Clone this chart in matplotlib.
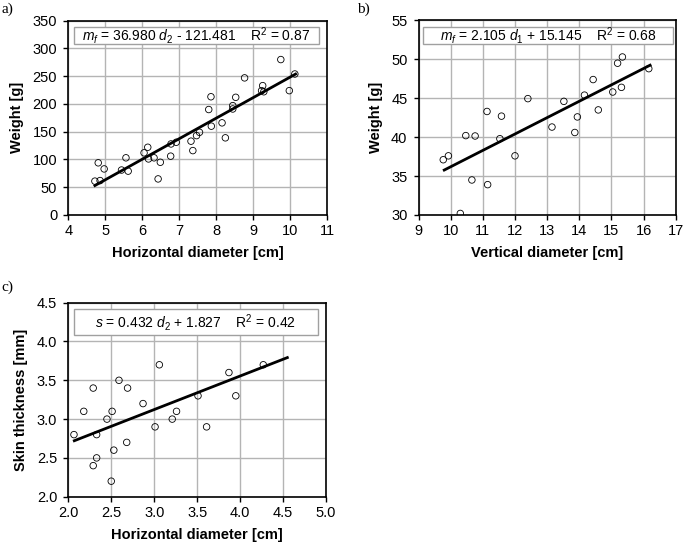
import numpy as np
import matplotlib.pyplot as plt
from matplotlib.patches import Rectangle

plt.rcParams['font.family'] = ['Liberation Sans', 'DejaVu Sans']
plt.rcParams['mathtext.fontset'] = 'custom'
plt.rcParams['mathtext.rm'] = 'Liberation Sans'
plt.rcParams['mathtext.it'] = 'Liberation Sans:italic'

# a) horizontal diameter vs weight
a_x = [4.72, 4.81, 4.86, 4.97, 5.44, 5.56, 5.62, 6.05, 6.15, 6.17, 6.32, 6.43, 6.49,
       6.77, 6.78, 6.92, 7.32, 7.37, 7.47, 7.55, 7.80, 7.86, 7.87, 8.16, 8.25, 8.45,
       8.45, 8.53, 8.77, 9.23, 9.26, 9.29, 9.75, 9.98, 10.13]
a_y = [61, 94, 62, 83, 81, 103, 79, 112, 122, 101, 103, 65, 95,
       106, 128, 131, 133, 116, 143, 149, 190, 213, 160, 166, 139, 191,
       197, 212, 247, 224, 233, 222, 280, 224, 254]

# b) vertical diameter vs weight
b_x = [9.77, 9.93, 10.30, 10.47, 10.66, 10.76, 11.13, 11.15, 11.58, 11.53, 12.00, 12.40,
       13.15, 13.52, 13.86, 13.94, 14.16, 14.43, 14.59, 15.04, 15.19, 15.31, 15.34, 16.16]
b_y = [37.1, 37.6, 30.2, 40.2, 34.5, 40.15, 43.3, 33.9, 42.7, 39.8, 37.6, 44.95,
       41.3, 44.6, 40.6, 42.6, 45.4, 47.4, 43.5, 45.8, 49.5, 46.4, 50.3, 48.8]

# c) horizontal diameter vs skin thickness
c_x = [2.066, 2.18, 2.29, 2.29, 2.33, 2.33, 2.45, 2.51, 2.50, 2.53, 2.59, 2.69,
       2.68, 2.87, 3.01, 3.06, 3.21, 3.26, 3.51, 3.61, 3.87, 3.95, 4.27]
c_y = [2.80, 3.10, 3.40, 2.40, 2.80, 2.50, 3.00, 3.10, 2.20, 2.60, 3.50, 3.40,
       2.70, 3.20, 2.90, 3.70, 3.00, 3.10, 3.30, 2.90, 3.60, 3.30, 3.70]

W, H = 685, 546
fig = plt.figure(figsize=(6.85, 5.46), dpi=100)


def make_axes(left, right, top, bottom):
    return fig.add_axes([left / W, 1 - bottom / H, (right - left) / W, (bottom - top) / H])


def panel(ax, x, y, slope, icpt, line_x, xlim, xticks, ylim, yticks, xlabel, ylabel,
          eq, box, xfmt='{:g}', yfmt='{:g}'):
    ax.set_axisbelow(True)
    ax.grid(True, color='#b4b4b4', linewidth=1.0)
    ax.scatter(x, y, s=22, facecolors='none', edgecolors='black', linewidths=0.6, zorder=3)
    lx = np.array(line_x)
    ax.plot(lx, slope * lx + icpt, color='black', linewidth=2, zorder=4)
    ax.set_xlim(xlim)
    ax.set_ylim(ylim)
    ax.set_xticks(xticks)
    ax.set_yticks(yticks)
    ax.set_xticklabels([xfmt.format(v) for v in xticks])
    ax.set_yticklabels([yfmt.format(v) for v in yticks])
    ax.tick_params(labelsize=10.5, length=3.5, width=1, direction='out')
    ax.tick_params(axis='x', pad=3)
    ax.tick_params(axis='y', pad=4.5)
    for s in ax.spines.values():
        s.set_linewidth(1.2)
    ax.set_xlabel(xlabel, fontsize=10.5, fontweight='bold', labelpad=6)
    ax.set_ylabel(ylabel, fontsize=10.5, fontweight='bold', labelpad=6)
    x0, x1, y0, y1 = box
    ax.add_patch(Rectangle((x0, y0), x1 - x0, y1 - y0, transform=ax.transAxes,
                           facecolor='white', edgecolor='#a0a0a0', linewidth=1.0, zorder=5))
    ax.text((x0 + x1) / 2, (y0 + y1) / 2, eq, transform=ax.transAxes, ha='center',
            va='center', fontsize=10, zorder=6)


ax_a = make_axes(68.3, 327, 20.7, 215)
panel(ax_a, a_x, a_y, 36.980, -121.481, [4.72, 10.15], (4, 11), range(4, 12),
      (0, 350), range(0, 351, 50), 'Horizontal diameter [cm]', 'Weight [g]',
      r'$m_f$ = 36.980 $d_2$ - 121.481    R$^2$ = 0.87', (0.022, 0.968, 0.88, 0.968))

ax_b = make_axes(418.5, 675.8, 20.4, 215)
panel(ax_b, b_x, b_y, 2.105, 15.145, [9.8, 16.2], (9, 17), range(9, 18),
      (30, 55), range(30, 56, 5), 'Vertical diameter [cm]', 'Weight [g]',
      r'$m_f$ = 2.105 $d_1$ + 15.145    R$^2$ = 0.68', (0.018, 0.99, 0.88, 0.968))

ax_c = make_axes(68.3, 326, 302.7, 496.7)
panel(ax_c, c_x, c_y, 0.432, 1.827, [2.07, 4.55], (2.0, 5.0), np.arange(2.0, 5.01, 0.5),
      (2.0, 4.5), np.arange(2.0, 4.51, 0.5), 'Horizontal diameter [cm]', 'Skin thickness [mm]',
      r'$s$ = 0.432 $d_2$ + 1.827    R$^2$ = 0.42', (0.022, 0.968, 0.834, 0.966),
      xfmt='{:.1f}', yfmt='{:.1f}')

for lab, px, py in [('a)', 1, 3), ('b)', 357, 3), ('c)', 1, 281)]:
    fig.text(px / W, 1 - py / H, lab, fontsize=11, family='Liberation Serif', va='top', ha='left')

fig.savefig('out.png', dpi=100)
